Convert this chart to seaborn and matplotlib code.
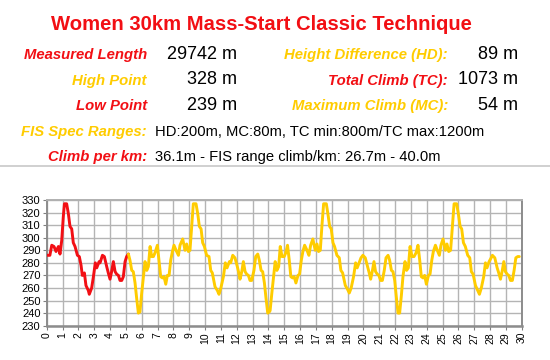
import matplotlib
matplotlib.use("Agg")
import matplotlib.pyplot as plt
import seaborn as sns
import pandas as pd
from matplotlib.lines import Line2D

# ---- data ----
red_km = [0, 0.2, 0.32, 0.46, 0.59, 0.74, 0.84, 0.95, 1.05, 1.12, 1.26, 1.37, 1.47, 1.58,
          1.68, 1.79, 1.94, 2.06, 2.17, 2.25, 2.38, 2.48, 2.63, 2.69, 2.84, 2.95, 3.07,
          3.16, 3.31, 3.37, 3.52, 3.64, 3.79, 3.89, 4.0, 4.1, 4.21, 4.32, 4.42, 4.53,
          4.63, 4.74, 4.84, 4.95, 5.05, 5.16]
red_elev = [286, 286, 294, 293, 289, 293, 287, 298, 317, 327, 327, 319, 309, 307,
            296, 293, 286, 285, 278, 270, 272, 262, 258, 255, 260, 269, 280,
            276, 281, 280, 286, 285, 277, 272, 267, 273, 281, 273, 271, 270,
            266, 266, 269, 281, 285, 287]

yellow_km = [5.16, 5.26, 5.37, 5.47, 5.58, 5.68, 5.79, 5.89, 6.0, 6.11, 6.21, 6.32, 6.42,
             6.53, 6.63, 6.74, 6.84, 6.99, 7.09, 7.2, 7.31, 7.41, 7.52, 7.62, 7.73,
             7.83, 7.94, 8.04, 8.17, 8.32, 8.42, 8.59, 8.74, 8.84, 8.95, 9.05, 9.16,
             9.26, 9.43, 9.54, 9.64, 9.75, 9.85, 9.96, 10.1, 10.25, 10.36, 10.46,
             10.63, 10.78, 10.88, 11.0, 11.16, 11.28, 11.39, 11.54, 11.62, 11.75,
             11.89, 12.04, 12.13, 12.21, 12.32, 12.42, 12.53, 12.63, 12.74, 12.84,
             12.95, 13.09, 13.2, 13.33, 13.43, 13.54, 13.64, 13.75, 13.85, 13.96,
             14.06, 14.11, 14.22, 14.33, 14.43, 14.54, 14.65, 14.75, 14.86, 15.0,
             15.1, 15.21, 15.32, 15.42, 15.53, 15.63, 15.74, 15.87, 15.97, 16.08,
             16.18, 16.29, 16.44, 16.56, 16.67, 16.81, 16.96, 17.07, 17.17, 17.28,
             17.38, 17.49, 17.66, 17.76, 17.87, 17.97, 18.08, 18.18, 18.33, 18.48,
             18.58, 18.69, 18.86, 19.0, 19.11, 19.23, 19.38, 19.51, 19.61, 19.76,
             19.85, 19.97, 20.12, 20.27, 20.37, 20.46, 20.56, 20.67, 20.77, 20.88,
             20.98, 21.09, 21.2, 21.32, 21.43, 21.56, 21.66, 21.77, 21.87, 21.98,
             22.08, 22.19, 22.29, 22.4, 22.5, 22.63, 22.73, 22.84, 22.95, 23.07,
             23.2, 23.33, 23.45, 23.56, 23.66, 23.77, 23.87, 23.98, 24.11, 24.21,
             24.32, 24.42, 24.55, 24.67, 24.8, 24.9, 25.03, 25.18, 25.28, 25.39,
             25.51, 25.62, 25.73, 25.89, 26.0, 26.11, 26.21, 26.32, 26.44, 26.59,
             26.72, 26.82, 26.93, 27.08, 27.22, 27.33, 27.45, 27.6, 27.71, 27.81,
             27.94, 28.03, 28.15, 28.3, 28.45, 28.55, 28.66, 28.76, 28.87, 28.97,
             29.08, 29.18, 29.29, 29.41, 29.52, 29.63, 29.75, 29.85]
yellow_elev = [287, 282, 274, 273, 264, 252, 240, 241, 256, 269, 281, 274, 277,
               293, 285, 285, 288, 294, 282, 269, 268, 269, 263, 270, 270,
               282, 289, 294, 290, 286, 294, 299, 290, 295, 289, 290, 309,
               327, 327, 319, 309, 307, 296, 293, 286, 285, 274, 272,
               261, 258, 255, 260, 269, 280, 276, 281, 280, 286,
               284, 277, 272, 267, 273, 281, 273, 271, 270, 266,
               266, 274, 285, 287, 282, 274, 273, 264, 252, 240,
               241, 242, 256, 269, 281, 274, 277, 293, 285, 285,
               288, 294, 282, 269, 268, 269, 264, 270, 271, 282,
               289, 294, 290, 286, 294, 299, 290, 295, 289, 290,
               309, 327, 327, 319, 309, 307, 296, 293, 286, 284,
               274, 272, 262, 259, 256, 260, 269, 280, 276, 281,
               284, 286, 284, 277, 272, 267, 273, 281, 273, 271,
               270, 266, 266, 274, 284, 286, 282, 274, 273, 266,
               253, 240, 240, 254, 269, 281, 274, 276, 293, 285,
               285, 288, 294, 282, 269, 268, 270, 263, 270, 271,
               282, 289, 294, 290, 286, 294, 299, 290, 295, 289,
               290, 309, 327, 327, 319, 309, 307, 296, 293, 286,
               284, 273, 271, 262, 258, 255, 260, 269, 280, 276,
               281, 283, 286, 284, 276, 272, 267, 273, 281, 273,
               271, 270, 266, 266, 274, 284, 285, 285]

x_ticks = list(range(0, 31))
y_ticks = list(range(230, 331, 10))

title = "Women 30km Mass-Start Classic Technique"
RED = "#F20F14"
YEL = "#FFCC00"

# ---- figure ----
sns.set_theme(style="white")
plt.rcParams["font.family"] = ["Liberation Sans", "DejaVu Sans"]

W, H = 550, 360
fig = plt.figure(figsize=(W / 100, H / 100), dpi=100)
fig.patch.set_facecolor("white")

def fx(px):
    return px / W

def fy(py):
    return 1 - py / H

ax = fig.add_axes([fx(46.7), fy(325.7), fx(521.7) - fx(46.7), (325.7 - 200) / H])

df_red = pd.DataFrame({"km": red_km, "elev": red_elev})
df_yel = pd.DataFrame({"km": yellow_km, "elev": yellow_elev})
sns.lineplot(data=df_red, x="km", y="elev", color=RED, lw=2.1, ax=ax,
             estimator=None, sort=False, zorder=3)
sns.lineplot(data=df_yel, x="km", y="elev", color=YEL, lw=2.1, ax=ax,
             estimator=None, sort=False, zorder=3)

ax.set_xlim(0, 30)
ax.set_ylim(230, 330)
ax.set_xticks(x_ticks)
ax.set_yticks(y_ticks)
ax.set_xticklabels([str(t) for t in x_ticks], rotation=90, fontsize=7.5)
ax.set_yticklabels([str(t) for t in y_ticks], fontsize=8)
ax.set_xlabel("")
ax.set_ylabel("")
ax.grid(True, color="#B4B4B4", lw=1.0)
ax.set_axisbelow(True)
ax.tick_params(axis="both", which="both", length=3, width=0.8, color="#808080",
               pad=1.5, labelcolor="black", bottom=True, left=True)
for side, sp in ax.spines.items():
    sp.set_color("#8C8C8C")
    sp.set_linewidth(1.4)
ax.spines["bottom"].set_linewidth(1.8)
ax.spines["top"].set_color("#B0B0B0")

# ---- header texts ----
fig.text(fx(261), fy(30.5), title, color=RED, fontsize=14.6, fontweight="bold",
         ha="center", va="baseline")

lab_kw = dict(fontsize=10.7, fontweight="bold", fontstyle="italic", va="baseline")
val_kw = dict(fontsize=13, color="black", va="baseline")

rows = [
    (59, "Measured Length", RED, "29742 m", "Height Difference (HD):", YEL, "89 m"),
    (84.5, "High Point", YEL, "328 m", "Total Climb (TC):", RED, "1073 m"),
    (110, "Low Point", RED, "239 m", "Maximum Climb (MC):", YEL, "54 m"),
]
for yb, l1, c1, v1, l2, c2, v2 in rows:
    fig.text(fx(147), fy(yb), l1, color=c1, ha="right", **lab_kw)
    fig.text(fx(237), fy(yb), v1, ha="right", **val_kw)
    fig.text(fx(448), fy(yb), l2, color=c2, ha="right", **lab_kw)
    fig.text(fx(518), fy(yb), v2, ha="right", **val_kw)

fig.text(fx(147), fy(136), "FIS Spec Ranges:", color=YEL, ha="right", **lab_kw)
fig.text(fx(155), fy(136), "HD:200m, MC:80m, TC min:800m/TC max:1200m",
         ha="left", fontsize=10.6, color="black", va="baseline")
fig.text(fx(147), fy(161), "Climb per km:", color=RED, ha="right", **lab_kw)
fig.text(fx(155), fy(161), "36.1m - FIS range climb/km: 26.7m - 40.0m",
         ha="left", fontsize=10.6, color="black", va="baseline")

fig.add_artist(Line2D([0, 1], [fy(166), fy(166)], color="#C8C8C8", lw=1.2,
                      transform=fig.transFigure))

fig.savefig("out.png", dpi=100, facecolor="white")
